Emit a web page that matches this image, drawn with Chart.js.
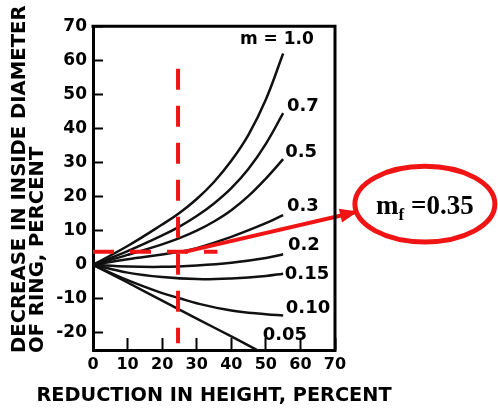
<!DOCTYPE html>
<html>
<head>
<meta charset="utf-8">
<script src="https://cdn.jsdelivr.net/npm/chart.js@4.4.1/dist/chart.umd.min.js"></script>
<style>
  html, body { margin: 0; padding: 0; background: #fff; }
  #wrap { width: 498px; height: 412px; position: relative; }
</style>
</head>
<body>
<div id="wrap"><canvas id="ring"></canvas></div>
<script>
// ring test calibration curves
const xTicks = [0, 10, 20, 30, 40, 50, 60, 70];
const yTicks = [-20, -10, 0, 10, 20, 30, 40, 50, 60, 70];

const m100x = [0, 10, 20, 25, 30, 35, 40, 45, 50, 55];
const m100y = [0, 5.5, 11.8, 15.2, 19.3, 24.3, 30.5, 38.2, 48.5, 62];
const m070x = [0, 10, 20, 25, 30, 35, 40, 45, 50, 55];
const m070y = [0, 4, 8.6, 11.2, 14.3, 18, 22.5, 28.2, 35.5, 44.5];
const m050x = [0, 10, 20, 25, 30, 35, 40, 45, 50, 55];
const m050y = [0, 2.9, 6, 7.8, 10, 12.7, 16, 20.2, 25.3, 31];
const m030x = [0, 10, 20, 25, 30, 40, 50, 55];
const m030y = [0, 1.6, 3, 3.8, 4.9, 8.2, 12.2, 14.6];
const m020x = [0, 10, 20, 30, 40, 50, 55];
const m020y = [0, -0.5, -0.6, -0.2, 0.6, 2, 3.1];
const m015x = [0, 10, 20, 30, 40, 50, 55];
const m015y = [0, -2.3, -3.6, -4.2, -4, -3.3, -2.6];
const m010x = [0, 10, 20, 25, 30, 40, 50, 55];
const m010y = [0, -4.5, -8.3, -9.8, -11.3, -13.4, -14.5, -14.9];
const m005x = [0, 10, 20, 30, 40, 48];
const m005y = [0, -5.2, -10.5, -15.8, -21, -25.3];

const curveNames = ['m = 1.0', '0.7', '0.5', '0.3', '0.2', '0.15', '0.10', '0.05'];
const nameX = [53.2, 60.7, 60.2, 60.7, 61.0, 61.9, 62.2, 55.5];
const nameY = [66.0, 46.6, 32.9, 17.1, 5.7, -2.9, -12.9, -20.6];

const xTitle = 'REDUCTION IN HEIGHT, PERCENT';
const yTitle = ['DECREASE IN INSIDE DIAMETER', 'OF RING, PERCENT'];

// red reading guides
const vGuideX = [24.6, 24.6];
const vGuideY = [57.5, -23];
const hGuideX = [0, 36];
const hGuideY = [3.8, 3.8];
const arrowX = [26.5, 75.8];
const arrowY = [3.8, 15.4];
const bubbleX = 96, bubbleY = 17.8, bubbleRx = 20.25, bubbleRy = 11.1;

const RED = '#f01414';
const pts = (xs, ys) => xs.map((v, i) => ({ x: v, y: ys[i] }));

const curve = (xs, ys) => ({
  data: pts(xs, ys),
  borderColor: '#111',
  borderWidth: 2.5,
  pointRadius: 0,
  tension: 0.4,
  order: 2
});
const guide = (xs, ys, dashed) => ({
  data: pts(xs, ys),
  borderColor: RED,
  borderWidth: 4,
  borderDash: dashed ? [21, 16] : [],
  borderCapStyle: 'butt',
  pointRadius: 0,
  tension: 0,
  clip: false,
  order: 1
});

const overlay = {
  id: 'overlay',
  afterDatasetsDraw(chart) {
    const { ctx, chartArea: a, scales: { x, y } } = chart;
    ctx.save();
    // top and right frame
    ctx.strokeStyle = '#000';
    ctx.lineWidth = 3;
    ctx.beginPath();
    ctx.moveTo(a.left - 1.5, a.top);
    ctx.lineTo(a.right, a.top);
    ctx.lineTo(a.right, a.bottom);
    ctx.stroke();

    // axis titles, drawn here so they are not squeezed to the axis length
    ctx.fillStyle = '#000';
    ctx.font = 'bold 19.3px "DejaVu Sans"';
    ctx.textAlign = 'center';
    ctx.textBaseline = 'middle';
    ctx.fillText(xTitle, (a.left + a.right) / 2, 396);

    ctx.save();
    ctx.translate(20, 353);
    ctx.rotate(-Math.PI / 2);
    ctx.font = 'bold 19.6px "DejaVu Sans"';
    ctx.textAlign = 'left';
    yTitle.forEach((t, i) => ctx.fillText(t, 0, i * 18));
    ctx.restore();

    // curve names
    ctx.textAlign = 'center';
    curveNames.forEach((t, i) => {
      ctx.font = i === 0 ? 'bold 17px "DejaVu Sans"' : 'bold 18px "DejaVu Sans"';
      ctx.fillText(t, x.getPixelForValue(nameX[i]), y.getPixelForValue(nameY[i]));
    });

    // arrow head
    const x0 = x.getPixelForValue(arrowX[0]), y0 = y.getPixelForValue(arrowY[0]);
    const x1 = x.getPixelForValue(arrowX[1]), y1 = y.getPixelForValue(arrowY[1]);
    const ang = Math.atan2(y1 - y0, x1 - x0);
    const c = Math.cos(ang), s = Math.sin(ang);
    const tx = x1 + 3 * c, ty = y1 + 3 * s;
    ctx.fillStyle = RED;
    ctx.beginPath();
    ctx.moveTo(tx, ty);
    ctx.lineTo(tx - 18 * c - 7 * s, ty - 18 * s + 7 * c);
    ctx.lineTo(tx - 18 * c + 7 * s, ty - 18 * s - 7 * c);
    ctx.closePath();
    ctx.fill();

    // ellipse with friction factor
    const cx = x.getPixelForValue(bubbleX), cy = y.getPixelForValue(bubbleY);
    const rx = x.getPixelForValue(bubbleX + bubbleRx) - cx;
    const ry = cy - y.getPixelForValue(bubbleY + bubbleRy);
    ctx.strokeStyle = RED;
    ctx.lineWidth = 5;
    ctx.beginPath();
    ctx.ellipse(cx, cy, rx, ry, 0, 0, Math.PI * 2);
    ctx.stroke();

    ctx.fillStyle = '#000';
    ctx.textAlign = 'left';
    ctx.textBaseline = 'alphabetic';
    const big = 'bold 27px "Liberation Serif"', small = 'bold 17px "Liberation Serif"';
    ctx.font = big;
    const wm = ctx.measureText('m').width, wr = ctx.measureText(' =0.35').width;
    ctx.font = small;
    const wf = ctx.measureText('f').width;
    let px = cx - (wm + wf + wr) / 2;
    const base = cy + 10;
    ctx.font = big;
    ctx.fillText('m', px, base);
    px += wm;
    ctx.font = small;
    ctx.fillText('f', px, base + 6);
    px += wf;
    ctx.font = big;
    ctx.fillText(' =0.35', px, base);
    ctx.restore();
  }
};

const tickFont = size => ({ family: 'DejaVu Sans', weight: 'bold', size });

new Chart(document.getElementById('ring'), {
  type: 'line',
  data: {
    datasets: [
      curve(m100x, m100y), curve(m070x, m070y), curve(m050x, m050y), curve(m030x, m030y),
      curve(m020x, m020y), curve(m015x, m015y), curve(m010x, m010y), curve(m005x, m005y),
      guide(vGuideX, vGuideY, true), guide(hGuideX, hGuideY, true), guide(arrowX, arrowY, false)
    ]
  },
  options: {
    responsive: true,
    maintainAspectRatio: false,
    animation: false,
    layout: { padding: { top: 16, right: 163, left: 0, bottom: 0 } },
    plugins: { legend: { display: false }, tooltip: { enabled: false } },
    scales: {
      x: {
        type: 'linear',
        min: 0,
        max: 70,
        afterBuildTicks: s => { s.ticks = xTicks.map(v => ({ value: v })); },
        afterFit: s => { s.height = 62; },
        grid: { drawOnChartArea: false, tickLength: -12, tickWidth: 2, color: '#000' },
        border: { width: 3, color: '#000' },
        ticks: { color: '#000', font: tickFont(16), padding: 17, maxRotation: 0, autoSkip: false }
      },
      y: {
        min: -25,
        max: 70,
        afterBuildTicks: s => { s.ticks = yTicks.map(v => ({ value: v })); },
        afterFit: s => { s.width = 93; },
        grid: { drawOnChartArea: false, tickLength: -10, tickWidth: 2, color: '#000' },
        border: { width: 3, color: '#000' },
        ticks: { color: '#000', font: tickFont(17), padding: 16 }
      }
    }
  },
  plugins: [overlay]
});
</script>
</body>
</html>
